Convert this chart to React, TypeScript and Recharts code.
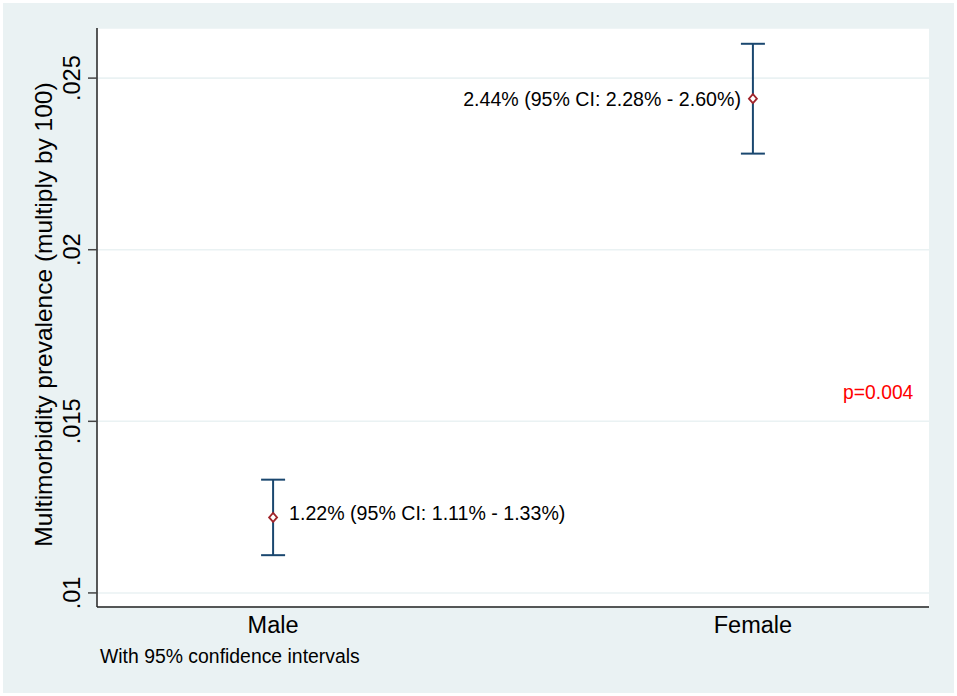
import React from "react";
import {
  ComposedChart,
  Scatter,
  XAxis,
  YAxis,
  CartesianGrid,
  ErrorBar,
  ReferenceDot,
} from "recharts";

const FONT = "Arial, 'Liberation Sans', sans-serif";
const NAVY = "#1a476f";
const MAROON = "#a0242b";
const PANEL = "#eaf2f3";

// categories and estimates with 95% CI
const groups = ["Male", "Female"];
const prevalence = [0.0122, 0.0244];
const ciLow = [0.0111, 0.0228];
const ciHigh = [0.0133, 0.026];
const pointLabels = [
  "1.22% (95% CI: 1.11% - 1.33%)",
  "2.44% (95% CI: 2.28% - 2.60%)",
];
const yTicks = [0.01, 0.015, 0.02, 0.025];
const pValueText = "p=0.004";

const data = groups.map((g, i) => ({
  x: i + 1,
  y: prevalence[i],
  err: [prevalence[i] - ciLow[i], ciHigh[i] - prevalence[i]],
  label: pointLabels[i],
}));

function YTick({ x, y, payload }: any) {
  return (
    <text
      x={x}
      y={y}
      transform={`rotate(-90, ${x}, ${y})`}
      textAnchor="middle"
      fontSize={23.5}
      fontFamily={FONT}
      fill="#000"
    >
      {String(payload.value).replace(/^0/, "")}
    </text>
  );
}

function XTick({ x, y, payload }: any) {
  return (
    <text x={x} y={y} textAnchor="middle" fontSize={23.5} fontFamily={FONT} fill="#000">
      {groups[Math.round(payload.value) - 1]}
    </text>
  );
}

function Diamond({ cx, cy, payload, index }: any) {
  const left = index === 0 ? false : true;
  return (
    <g>
      <path
        d={`M${cx},${cy - 4.5} L${cx + 4},${cy} L${cx},${cy + 4.5} L${cx - 4},${cy} Z`}
        fill="#fff"
        stroke={MAROON}
        strokeWidth={1.8}
      />
      <text
        x={left ? cx - 12 : cx + 16}
        y={left ? cy + 7 : cy + 3}
        textAnchor={left ? "end" : "start"}
        fontSize={19.6}
        fontFamily={FONT}
        fill="#000"
      >
        {payload.label}
      </text>
    </g>
  );
}

export default function App() {
  return (
    <div style={{ position: "absolute", left: 0, top: 0, width: 957, height: 696, background: "#fff" }}>
      <svg width={957} height={696} style={{ position: "absolute", left: 0, top: 0 }}>
        <rect x={3} y={3} width={951} height={690} fill={PANEL} />
        <text x={100} y={663} fontSize={19.4} fontFamily={FONT} fill="#000">
          With 95% confidence intervals
        </text>
      </svg>
      <div style={{ position: "absolute", left: 0, top: 0 }}>
        <ComposedChart
          width={957}
          height={696}
          data={data}
          margin={{ top: 28, right: 28, bottom: 39, left: 7 }}
        >
          <CartesianGrid vertical={false} stroke={PANEL} strokeWidth={1.6} fill="#fff" />
          <XAxis
            type="number"
            dataKey="x"
            domain={[0.633, 2.367]}
            ticks={[1, 2]}
            allowDataOverflow
            height={50}
            tickLine={false}
            tickSize={0}
            tickMargin={26}
            tick={<XTick />}
            axisLine={{ stroke: "#222", strokeWidth: 1.5 }}
          />
          <YAxis
            type="number"
            dataKey="y"
            domain={[0.00959, 0.02646]}
            ticks={yTicks}
            allowDataOverflow
            width={90}
            tickSize={9}
            tickMargin={8}
            tick={<YTick />}
            tickLine={{ stroke: "#444", strokeWidth: 1.5 }}
            axisLine={{ stroke: "#222", strokeWidth: 1.5 }}
            label={{
              content: ({ viewBox }: any) => {
                const cx = viewBox.x + 45;
                const cy = viewBox.y + viewBox.height / 2 - 3;
                return (
                  <text
                    x={cx}
                    y={cy}
                    transform={`rotate(-90, ${cx}, ${cy})`}
                    textAnchor="middle"
                    fontSize={24.5}
                    fontFamily={FONT}
                    fill="#000"
                  >
                    Multimorbidity prevalence (multiply by 100)
                  </text>
                );
              },
            }}
          />
          <Scatter dataKey="y" isAnimationActive={false} shape={<Diamond />}>
            <ErrorBar dataKey="err" direction="y" width={12} stroke={NAVY} strokeWidth={2} />
          </Scatter>
          <ReferenceDot
            x={2.188}
            y={0.01565}
            r={0}
            isFront
            shape={(p: any) => (
              <text x={p.cx} y={p.cy} fontSize={19.3} fontFamily={FONT} fill="#ff0000">
                {pValueText}
              </text>
            )}
          />
        </ComposedChart>
      </div>
    </div>
  );
}
